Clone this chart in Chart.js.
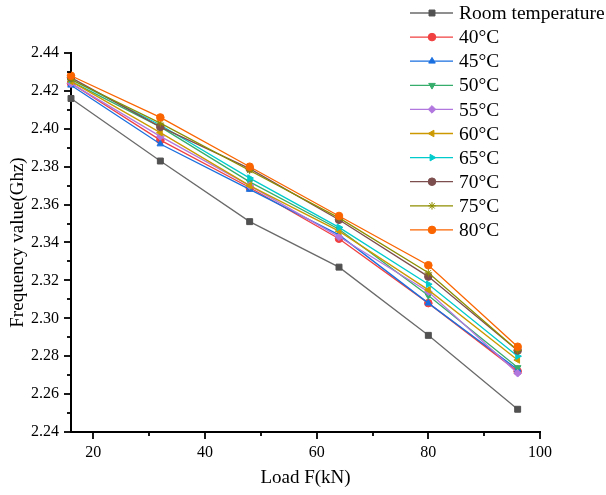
<!DOCTYPE html>
<html>
<head>
<meta charset="utf-8">
<script src="https://cdn.jsdelivr.net/npm/chart.js@4"></script>
<style>
  html, body { margin: 0; padding: 0; background: #fff; }
  canvas { display: block; }
</style>
</head>
<body>
<canvas id="chart" width="606" height="495"></canvas>
<script>
// Load values (kN)
var loads = [16, 32, 48, 64, 80, 96];

// Frequency values (GHz) per temperature
var roomTemp = [2.416, 2.383, 2.351, 2.327, 2.291, 2.252];
var t40 = [2.424, 2.394, 2.369, 2.342, 2.308, 2.272];
var t45 = [2.423, 2.392, 2.368, 2.344, 2.308, 2.273];
var t50 = [2.425, 2.401, 2.372, 2.347, 2.312, 2.274];
var t55 = [2.424, 2.396, 2.370, 2.343, 2.314, 2.271];
var t60 = [2.425, 2.398, 2.370, 2.346, 2.315, 2.278];
var t65 = [2.426, 2.402, 2.374, 2.348, 2.318, 2.280];
var t70 = [2.427, 2.401, 2.379, 2.352, 2.322, 2.283];
var t75 = [2.426, 2.403, 2.378, 2.353, 2.324, 2.283];
var t80 = [2.428, 2.406, 2.380, 2.354, 2.328, 2.285];

var seriesLabels = ["Room temperature", "40\u00B0C", "45\u00B0C", "50\u00B0C", "55\u00B0C",
  "60\u00B0C", "65\u00B0C", "70\u00B0C", "75\u00B0C", "80\u00B0C"];
var seriesValues = [roomTemp, t40, t45, t50, t55, t60, t65, t70, t75, t80];

var xTicks = [20, 40, 60, 80, 100];
var yTicks = [2.24, 2.26, 2.28, 2.30, 2.32, 2.34, 2.36, 2.38, 2.40, 2.42, 2.44];

// Origin-like palette and markers
var colors = ["#515151", "#F14040", "#1A6FDF", "#37AD6B", "#B177DE",
  "#CC9900", "#00CBCC", "#7D4E4E", "#8E8E00", "#FB6501"];
var markers = ["rect", "circle", "triangle", "triangle", "rectRot",
  "triangle", "triangle", "circle", "star", "circle"];
var markerRot = [0, 0, 0, 180, 0, -90, 90, 0, 0, 0];

var serif = "'Liberation Serif', 'Times New Roman', serif";

var datasets = seriesValues.map(function (vals, i) {
  return {
    label: seriesLabels[i],
    data: vals.map(function (v, j) { return { x: loads[j], y: v }; }),
    borderColor: i === 0 ? "#6a6a6a" : colors[i],
    backgroundColor: colors[i],
    pointBackgroundColor: colors[i],
    pointBorderColor: colors[i],
    pointStyle: markers[i],
    rotation: markerRot[i],
    pointRadius: markers[i] === "rect" ? 4.2 : 3.8,
    pointBorderWidth: 1,
    borderWidth: 1.3,
    tension: 0,
    clip: false,
    order: seriesValues.length - 1 - i
  };
});

// Minor/major tick marks drawn outward from the axes
var tickPlugin = {
  id: "ticks",
  afterDraw: function (chart) {
    var ctx = chart.ctx;
    var xs = chart.scales.x, ys = chart.scales.y;
    var area = chart.chartArea;
    ctx.save();
    ctx.strokeStyle = "#000";
    ctx.lineWidth = 1.8;
    for (var v = 20; v <= 100; v += 10) {
      var px = Math.round(xs.getPixelForValue(v));
      var len = v % 20 === 0 ? 7 : 4;
      ctx.beginPath();
      ctx.moveTo(px, area.bottom);
      ctx.lineTo(px, area.bottom + len);
      ctx.stroke();
    }
    for (var k = 0; k <= 20; k++) {
      var val = 2.24 + k * 0.01;
      var py = Math.round(ys.getPixelForValue(val));
      var l = k % 2 === 0 ? 7 : 4;
      ctx.beginPath();
      ctx.moveTo(area.left, py);
      ctx.lineTo(area.left - l, py);
      ctx.stroke();
    }
    ctx.restore();
  }
};

// Legend drawn in the upper right, like the Origin plot
var legendPlugin = {
  id: "originLegend",
  afterDraw: function (chart) {
    var ctx = chart.ctx;
    ctx.save();
    chart.data.datasets.forEach(function (ds, i) {
      var y = 13 + i * 24.1;
      ctx.strokeStyle = ds.borderColor;
      ctx.lineWidth = 1.3;
      ctx.beginPath();
      ctx.moveTo(410, y);
      ctx.lineTo(453, y);
      ctx.stroke();
      ctx.fillStyle = ds.pointBackgroundColor;
      ctx.strokeStyle = ds.pointBorderColor;
      ctx.lineWidth = 1;
      Chart.helpers.drawPoint(ctx, {
        pointStyle: ds.pointStyle,
        rotation: ds.rotation,
        radius: ds.pointRadius,
        borderWidth: 1
      }, 432, y);
      ctx.fillStyle = "#000";
      ctx.font = "19.5px " + serif;
      ctx.textBaseline = "middle";
      ctx.textAlign = "left";
      ctx.fillText(ds.label, 459, y + 1);
    });
    ctx.restore();
  }
};

new Chart(document.getElementById("chart"), {
  type: "line",
  data: { datasets: datasets },
  plugins: [tickPlugin, legendPlugin],
  options: {
    responsive: false,
    animation: false,
    layout: { padding: { left: 0, right: 66, top: 53, bottom: 0 } },
    plugins: {
      legend: { display: false },
      tooltip: { enabled: false }
    },
    scales: {
      x: {
        type: "linear",
        min: 16,
        max: 100,
        afterBuildTicks: function (scale) {
          scale.ticks = xTicks.map(function (v) { return { value: v }; });
        },
        afterFit: function (scale) { scale.height = 63; },
        grid: { display: false, drawTicks: false },
        border: { display: true, color: "#000", width: 2 },
        ticks: {
          padding: 11,
          color: "#000",
          font: { family: serif, size: 16 },
          maxRotation: 0
        },
        title: {
          display: true,
          text: "Load F(kN)",
          color: "#000",
          font: { family: serif, size: 19 },
          padding: { top: 0, bottom: 6 }
        }
      },
      y: {
        type: "linear",
        min: 2.24,
        max: 2.44,
        afterBuildTicks: function (scale) {
          scale.ticks = yTicks.map(function (v) { return { value: v }; });
        },
        afterFit: function (scale) { scale.width = 71; },
        grid: { display: false, drawTicks: false },
        border: { display: true, color: "#000", width: 2 },
        ticks: {
          padding: 12,
          color: "#000",
          font: { family: serif, size: 16 },
          callback: function (v) { return Number(v).toFixed(2); }
        },
        title: {
          display: true,
          text: "Frequency value(Ghz)",
          color: "#000",
          font: { family: serif, size: 19 },
          padding: { top: 7, bottom: 0 }
        }
      }
    }
  }
});
</script>
</body>
</html>
